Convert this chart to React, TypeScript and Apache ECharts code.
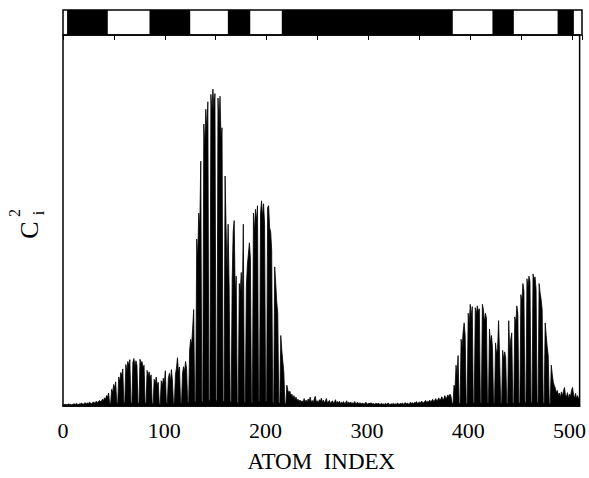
import React, { useEffect, useRef } from 'react';
import * as echarts from 'echarts';

// x-axis tick labels (atom index)
const xTickLabels = ['0', '100', '200', '300', '400', '500'];

// black segments of the top bar (atom index ranges)
const barBlackSegments = [
  [4, 44],
  [85, 125],
  [162, 184],
  [215, 383],
  [422, 443],
  [486, 502],
];

// C_i^2 (percent of plot height), atoms 0..122
const ciSqA = [
  0.4, 0.3, 0.5, 0.4, 0.3, 0.6, 0.4, 0.5, 0.3, 0.4,
  0.5, 0.6, 0.4, 0.7, 0.5, 0.4, 0.6, 0.5, 0.8, 0.6,
  0.5, 0.7, 0.9, 0.6, 0.8, 0.7, 1.0, 0.8, 0.6, 0.9,
  1.1, 0.8, 1.0, 1.3, 0.9, 1.2, 1.5, 1.1, 1.4, 1.8,
  1.5, 2.2, 1.8, 2.8, 2.4, 3.5, 0.8, 0.5, 4.5, 3.6,
  5.8, 4.8, 6.5, 1.0, 0.6, 7.8, 6.5, 9.0, 8.2, 10.0,
  1.2, 0.7, 11.2, 9.5, 12.0, 10.8, 12.5, 1.0, 0.6, 11.8,
  12.8, 10.6, 12.2, 11.0, 0.9, 0.5, 12.6, 11.4, 12.0, 10.2,
  11.0, 1.0, 0.6, 9.6, 8.0, 9.2, 7.5, 8.4, 0.8, 0.5,
  7.2, 6.0, 7.8, 5.5, 6.4, 0.7, 0.4, 6.8, 5.2, 7.5,
  6.0, 9.5, 1.0, 0.6, 7.4, 8.8, 6.6, 9.8, 7.0, 0.8,
  0.5, 8.5, 10.2, 13.0, 9.0, 10.5, 1.0, 0.6, 8.8, 10.6,
  9.2, 12.0, 10.0,
];

// atoms 123..235
const ciSqB = [
  1.2, 0.7, 15.0, 18.0, 16.5, 21.0, 26.0,
  1.5, 0.8, 45.0, 40.0, 52.0, 48.0, 66.0, 1.5, 0.8, 76.0,
  70.0, 80.0, 74.0, 82.0, 1.8, 1.0, 84.0, 79.0, 85.4, 80.0,
  84.2, 1.8, 1.0, 83.0, 76.0, 83.5, 72.0, 75.0, 1.5, 0.8,
  62.0, 48.0, 36.0, 49.0, 32.0, 1.5, 0.8, 34.0, 47.0, 50.0,
  30.0, 35.0, 1.2, 0.7, 33.0, 31.0, 36.0, 28.0, 49.0, 1.2,
  0.8, 32.0, 38.0, 41.0, 44.0, 40.0, 1.2, 0.7, 52.0, 47.0,
  53.0, 50.0, 54.0, 1.5, 0.8, 52.0, 55.3, 51.0, 54.5, 49.0,
  1.5, 0.8, 53.5, 54.0, 48.0, 47.0, 42.0, 1.2, 0.7, 37.5,
  33.0, 28.0, 25.0, 1.0, 0.6, 19.0, 15.0, 12.0, 9.0, 0.8,
  0.5, 5.6, 4.2, 3.5, 4.0, 2.6, 3.2, 2.0, 2.8, 1.6,
  2.4, 1.5, 1.8, 1.2, 1.6, 1.0,
];

// atoms 236..375
const ciSqC = [
  1.4, 0.9, 2.0, 1.1, 1.6, 0.8, 1.9, 1.2, 2.4, 1.0,
  1.5, 0.9, 1.8, 2.6, 1.1, 1.4, 0.8, 1.7, 1.2, 2.1,
  1.0, 1.6, 0.9, 1.3, 2.0, 0.8, 1.2, 1.5, 0.7, 1.1,
  1.4, 0.8, 1.0, 1.7, 0.7, 1.2, 0.9, 1.3, 0.6, 1.0,
  0.8, 1.2, 0.6, 0.9, 1.4, 0.7, 1.0, 0.8, 1.1, 0.6,
  0.9, 0.7, 1.2, 0.6, 0.8, 1.0, 0.5, 0.9, 0.7, 0.6,
  0.8, 0.5, 0.7, 1.0, 0.6, 0.5, 0.8, 0.6, 0.9, 0.5,
  0.7, 0.6, 0.4, 0.8, 0.5, 0.7, 0.6, 0.4, 0.7, 0.5,
  0.6, 0.4, 0.7, 0.5, 0.6, 0.8, 0.5, 0.4, 0.6, 0.5,
  0.7, 0.5, 0.6, 0.4, 0.8, 0.6, 0.5, 0.7, 0.6, 0.8,
  0.5, 0.7, 0.9, 0.6, 0.8, 0.5, 0.7, 1.0, 0.7, 0.9,
  0.6, 1.0, 0.8, 1.2, 0.7, 0.9, 1.1, 0.8, 1.3, 1.0,
  0.8, 1.2, 1.5, 0.9, 1.3, 1.1, 1.6, 1.0, 1.4, 1.8,
  1.2, 1.5, 2.0, 1.3, 1.7, 2.2, 1.4, 1.9, 2.5, 1.6,
];

// atoms 376..510
const ciSqD = [
  2.0, 2.8, 1.8, 2.4, 3.0, 2.2, 3.2, 2.6, 0.8, 0.5,
  5.6, 4.5, 11.0, 8.0, 13.6, 0.9, 0.5, 18.0, 15.5, 20.0,
  22.4, 19.0, 0.9, 0.6, 25.0, 22.0, 27.4, 24.0, 26.8, 1.0,
  0.6, 26.5, 24.5, 27.0, 25.5, 26.2, 1.0, 0.6, 27.4, 26.0,
  22.5, 25.0, 23.7, 1.0, 0.6, 20.7, 17.0, 19.0, 15.5, 1.0,
  0.6, 17.0, 14.0, 15.5, 23.0, 13.5, 1.0, 0.6, 15.0, 12.5,
  14.6, 13.0, 0.9, 0.6, 23.0, 14.5, 18.0, 19.7, 1.0, 0.6,
  24.0, 22.0, 27.0, 25.0, 1.0, 0.6, 30.0, 28.0, 33.0, 31.0,
  1.2, 0.7, 34.3, 32.0, 35.0, 33.5, 1.2, 0.7, 35.6, 34.0,
  34.8, 31.5, 1.2, 0.7, 33.0, 30.5, 28.7, 26.0, 1.0, 0.6,
  22.4, 19.0, 16.0, 13.5, 0.8, 0.5, 11.0, 8.5, 6.4, 5.5,
  4.8, 3.5, 4.2, 2.8, 3.5, 2.2, 3.8, 2.6, 4.0, 5.0,
  3.0, 2.4, 3.6, 2.0, 3.2, 2.6, 4.2, 5.0, 3.0, 2.2,
  3.4, 2.0, 2.8, 1.8, 2.5,
];

const FONT = "'Liberation Serif', 'DejaVu Serif', serif";

export default function App() {
  const ref = useRef<HTMLDivElement>(null);

  useEffect(() => {
    if (!ref.current) return;
    const chart = echarts.init(ref.current, null, { renderer: 'svg' });
    const values = [...ciSqA, ...ciSqB, ...ciSqC, ...ciSqD];
    const seriesData = values.map((v, i) => [i, v]);

    const rotatedText = (text: string, x: number, y: number, size: number) => ({
      type: 'text',
      x,
      y,
      rotation: Math.PI / 2,
      style: {
        text,
        font: `${size}px ${FONT}`,
        fill: '#000',
        align: 'center',
        verticalAlign: 'middle',
        textAlign: 'center',
        textVerticalAlign: 'middle',
      },
    });

    chart.setOption({
      animation: false,
      backgroundColor: '#ffffff',
      grid: [
        { left: 63, right: 7, top: 35, bottom: 67, show: true, borderColor: '#000', borderWidth: 1.5 },
        { left: 63, right: 7, top: 10, height: 25, show: true, borderColor: '#000', borderWidth: 1.5 },
      ],
      xAxis: [
        {
          gridIndex: 0,
          type: 'value',
          min: 0,
          max: 510,
          interval: 100,
          axisLine: { show: true, lineStyle: { color: '#000', width: 1.5 } },
          axisTick: { show: false },
          splitLine: { show: false },
          axisLabel: {
            color: '#000',
            fontFamily: FONT,
            fontSize: 22,
            margin: 13,
            formatter: (v: number) => (xTickLabels.includes(String(v)) ? String(v) : ''),
          },
          name: 'ATOM\u00a0\u00a0INDEX',
          nameLocation: 'middle',
          nameGap: 44,
          nameTextStyle: { color: '#000', fontFamily: FONT, fontSize: 23 },
        },
        {
          gridIndex: 1,
          type: 'value',
          min: 0,
          max: 510,
          interval: 50,
          position: 'top',
          axisLine: { show: false },
          axisTick: { show: true, inside: true, length: 5, lineStyle: { color: '#000', width: 1 } },
          axisLabel: { show: false },
          splitLine: { show: false },
        },
      ],
      yAxis: [
        { gridIndex: 0, type: 'value', min: 0, max: 100, show: false, splitLine: { show: false } },
        { gridIndex: 1, type: 'value', min: 0, max: 1, show: false, splitLine: { show: false } },
      ],
      graphic: [
        rotatedText('C', 29, 230, 26),
        rotatedText('2', 14, 213, 16),
        rotatedText('i', 38, 213, 16),
      ],
      series: [
        {
          type: 'line',
          xAxisIndex: 0,
          yAxisIndex: 0,
          data: seriesData,
          showSymbol: false,
          symbol: 'none',
          lineStyle: { color: '#000', width: 0.8 },
          areaStyle: { color: '#000', opacity: 1 },
          z: 2,
        },
        {
          type: 'custom',
          xAxisIndex: 1,
          yAxisIndex: 1,
          data: barBlackSegments,
          renderItem: (params: any, api: any) => {
            const s = api.coord([api.value(0), 1]);
            const e = api.coord([api.value(1), 0]);
            return {
              type: 'rect',
              shape: { x: s[0], y: s[1], width: e[0] - s[0], height: e[1] - s[1] },
              style: { fill: '#000' },
            };
          },
          z: 1,
        },
      ],
    });

    return () => chart.dispose();
  }, []);

  return (
    <div
      ref={ref}
      style={{ position: 'absolute', left: 0, top: 0, width: 589, height: 478 }}
    />
  );
}
